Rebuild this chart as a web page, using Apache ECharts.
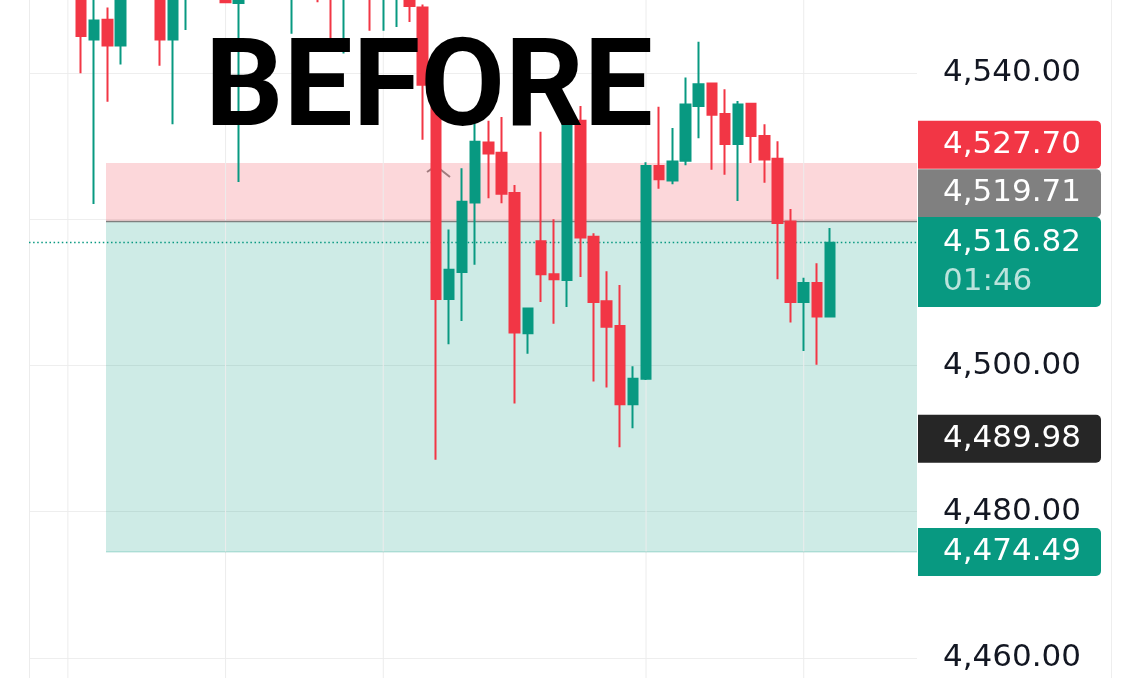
<!DOCTYPE html>
<html><head><meta charset="utf-8">
<style>html,body{margin:0;padding:0;background:#fff}#c{width:1138px;height:678px}</style>
<script src="https://cdn.jsdelivr.net/npm/echarts@6/dist/echarts.min.js"></script>
</head><body><div id="c"></div>
<script>
// ---- data (candle k = 0..57) ----
const opens  = [4553.5,4544.6,4547.3,4543.8,4553.5,4557.0,4554.0,4544.6,4553.0,4556.0,
                4554.0,4557.0,4549.6,4555.0,4558.0,4555.5,4553.0,4556.0,4553.0,4551.5,
                4550.5,4553.5,4556.0,4552.0,4551.0,4553.5,4549.0,4538.4,4509.1,4512.8,
                4522.3,4530.5,4529.1,4523.6,4504.4,4517.0,4512.5,4511.7,4533.5,4517.6,
                4508.8,4505.4,4494.7,4498.2,4527.3,4525.3,4528.0,4535.5,4538.6,4534.4,
                4530.3,4535.8,4531.4,4528.3,4519.7,4508.7,4511.3,4506.7];
const closes = [4545.1,4547.2,4543.8,4553.5,4557.0,4554.0,4544.6,4553.0,4556.0,4554.0,
                4557.0,4549.7,4555.0,4558.0,4555.5,4557.5,4556.0,4553.0,4551.5,4550.5,
                4553.5,4556.0,4552.0,4554.5,4553.5,4549.2,4538.4,4509.1,4513.1,4522.4,
                4530.6,4529.0,4523.5,4504.5,4507.8,4512.5,4511.8,4533.5,4517.5,4508.7,
                4505.3,4494.7,4498.2,4527.3,4525.5,4527.9,4535.7,4538.5,4534.3,4530.3,
                4535.7,4531.4,4528.2,4519.5,4508.7,4511.3,4506.7,4516.8];
const lows   = [4540.0,4522.1,4536.1,4541.2,4552.0,4552.5,4541.0,4533.0,4545.9,4552.0,
                4553.0,4549.6,4525.1,4553.0,4554.0,4554.0,4545.4,4551.5,4549.7,4544.5,
                4542.7,4552.0,4545.8,4545.8,4546.3,4547.0,4530.9,4487.1,4502.9,4506.1,
                4513.8,4522.9,4522.2,4494.8,4501.6,4508.7,4505.7,4508.0,4512.1,4497.8,
                4497.0,4488.8,4491.4,4498.0,4524.2,4524.8,4527.4,4531.1,4526.8,4526.1,
                4522.5,4527.7,4525.0,4511.8,4505.9,4502.0,4500.1,4506.7];
const highs  = [4555.0,4552.0,4549.0,4555.5,4558.5,4558.0,4555.0,4554.5,4557.5,4558.0,
                4559.0,4558.0,4556.0,4559.5,4559.0,4558.5,4557.0,4557.5,4554.5,4553.0,
                4554.5,4557.0,4557.0,4555.5,4555.0,4554.0,4549.4,4539.0,4518.6,4527.0,
                4533.5,4533.5,4534.0,4524.7,4507.9,4532.0,4520.0,4535.0,4535.5,4518.1,
                4512.9,4511.0,4499.9,4527.8,4535.4,4532.5,4539.4,4544.3,4538.7,4537.8,
                4536.2,4535.9,4533.0,4530.7,4521.4,4512.0,4514.0,4518.8];

const stopPrice   = 4527.70;
const entryPrice  = 4519.71;
const lastPrice   = 4516.82;
const markPrice   = 4489.98;
const targetPrice = 4474.49;
const countdown   = '01:46';
const zoneStartK  = 1.9;                 // candle position where the zones begin
const gridLinesK  = [-1, 11, 23, 43, 55]; // vertical grid line candle positions
const yTickStep   = 20;
const titleText   = 'BEFORE';

// ---- chart ----
const X_MIN = -3.96, X_MAX = 63.62, Y_MIN = 4440, Y_MAX = 4560;
const FONT = '"DejaVu Sans", sans-serif';
const RED = '#F23645', GREEN = '#089981';
const fmt = v => v.toLocaleString('en-US', {minimumFractionDigits: 2, maximumFractionDigits: 2});

const candles = opens.map((o, k) => [k, o, closes[k], lows[k], highs[k]]);

function bgLine(data, lineStyle) {
  return {type: 'line', z: 1, silent: true, symbol: 'none', data: data, lineStyle: lineStyle};
}
const vLineStyle = {color: '#ececec', width: 1, type: 'solid'};
const vLines = [X_MIN + 0.04].concat(gridLinesK).map(k => bgLine([[k, Y_MIN], [k, Y_MAX]], vLineStyle));

function tag(value, bg, dy) {
  return {
    yAxis: value,
    lineStyle: {color: 'rgba(0,0,0,0)', width: 0},
    label: {
      show: true, position: 'end', distance: 1, offset: [0, dy],
      formatter: fmt(value), backgroundColor: bg, color: '#fff',
      fontFamily: FONT, fontSize: 31, lineHeight: 32,
      padding: [8, 18, 8, 25], width: 140, borderRadius: [0, 5, 5, 0]
    }
  };
}

const chart = echarts.init(document.getElementById('c'), null, {renderer: 'canvas'});
chart.setOption({
  animation: false,
  backgroundColor: '#ffffff',
  grid: {left: 29, right: 221, top: -73, bottom: -126, containLabel: false, outerBoundsMode: 'none'},
  xAxis: {type: 'value', min: X_MIN, max: X_MAX, show: false},
  yAxis: {
    type: 'value', position: 'right', min: Y_MIN, max: Y_MAX, interval: yTickStep,
    axisLine: {show: false}, axisTick: {show: false},
    splitLine: {show: true, lineStyle: {color: '#eeeeee', width: 1}},
    axisLabel: {margin: 26, color: '#131722', fontFamily: FONT, fontSize: 31, formatter: fmt}
  },
  series: [
    ...vLines,
    {
      type: 'line', data: [], z: 1, silent: true,
      markArea: {
        silent: true, z: 1,
        data: [
          [{coord: [zoneStartK, stopPrice], itemStyle: {color: 'rgba(242,54,69,0.2)'}},
           {coord: [X_MAX, entryPrice]}],
          [{coord: [zoneStartK, entryPrice], itemStyle: {color: 'rgba(8,153,129,0.2)'}},
           {coord: [X_MAX, targetPrice]}]
        ]
      }
    },
    bgLine([[zoneStartK, targetPrice], [X_MAX, targetPrice]], {color: 'rgba(8,153,129,0.3)', width: 1}),
    bgLine([[zoneStartK, entryPrice], [X_MAX, entryPrice]], {color: '#7f7f7f', width: 1.5}),
    bgLine([[X_MIN, lastPrice], [X_MAX, lastPrice]], {color: GREEN, width: 1.5, type: [1.5, 2.6]}),
    {
      type: 'candlestick', z: 2, data: candles, barWidth: 10,
      itemStyle: {color: GREEN, color0: RED, borderColor: GREEN, borderColor0: RED, borderWidth: 2}
    },
    {
      type: 'line', data: [], z: 5, silent: true,
      markLine: {
        silent: true, z: 6, symbol: ['none', 'none'],
        data: [
          tag(stopPrice, RED, -18.4),
          tag(entryPrice, '#808080', -28.3),
          {
            yAxis: lastPrice,
            lineStyle: {color: 'rgba(0,0,0,0)', width: 0},
            label: {
              show: true, position: 'end', distance: 1, offset: [0, 19.5],
              formatter: '{a|' + fmt(lastPrice) + '}\n{b|' + countdown + '}',
              backgroundColor: GREEN, padding: [6, 18, 5, 25], width: 140, borderRadius: [0, 5, 5, 0],
              rich: {
                a: {color: '#fff', fontFamily: FONT, fontSize: 31, lineHeight: 39.5},
                b: {color: 'rgba(255,255,255,0.72)', fontFamily: FONT, fontSize: 31, lineHeight: 39.5}
              }
            }
          },
          tag(markPrice, '#262626', 0),
          tag(targetPrice, GREEN, 0)
        ]
      }
    }
  ],
  graphic: [
    {type: 'polyline', z: 1, shape: {points: [[427, 172], [436, 166], [450, 177]]},
     style: {stroke: '#8c8c8c', lineWidth: 2, fill: null}},
    {type: 'line', z: 1, shape: {x1: 1111.5, y1: 0, x2: 1111.5, y2: 678}, style: {stroke: '#eeeeee', lineWidth: 1}},
    {type: 'text', z: 100, left: 205, top: 33,
     style: {text: titleText, fill: '#000', font: 'bold 123px Roboto'}}
  ]
});
</script></body></html>
